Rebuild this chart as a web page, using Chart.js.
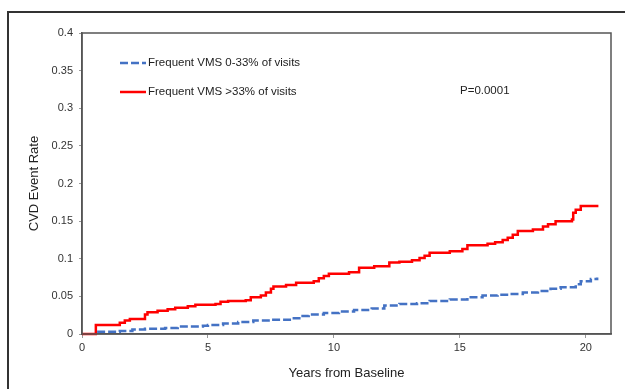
<!DOCTYPE html>
<html lang="en">
<head>
    <meta charset="UTF-8">
    <title>CVD Event Rate</title>
    <style>
        body { margin: 0; background: #fff; overflow: hidden; }
        .wrap { position: relative; width: 625px; height: 389px; }
        .frame { position: absolute; left: 7px; top: 11px; width: 700px; height: 500px;
                 border-left: 2px solid #333; border-top: 2px solid #333; pointer-events: none; }
        canvas { position: absolute; left: 0; top: 0; }
    </style>
</head>
<body>
    <div class="wrap">
        <canvas id="myChart" width="625" height="389"></canvas>
        <div class="frame"></div>
    </div>

    <script src="https://cdn.jsdelivr.net/npm/chart.js"></script>
    <script>
        // Kaplan-Meier style cumulative event rate
        const lowYears = [0.6, 1.5, 2.0, 2.5, 3.3, 3.8, 4.8, 5.0, 5.6, 6.2, 6.8, 7.5, 8.3, 8.7, 9.0, 9.6,
            10.2, 10.8, 11.5, 12.0, 12.6, 13.3, 13.8, 14.6, 15.3, 15.9, 16.5, 17.0, 17.5, 18.1, 18.6,
            19.0, 19.6, 19.8, 20.2, 20.45];
        const lowRate = [0.003, 0.004, 0.006, 0.007, 0.008, 0.010, 0.011, 0.012, 0.014, 0.016, 0.018,
            0.019, 0.021, 0.024, 0.026, 0.028, 0.030, 0.032, 0.034, 0.038, 0.040, 0.041, 0.044, 0.046,
            0.049, 0.051, 0.052, 0.053, 0.055, 0.057, 0.060, 0.062, 0.066, 0.070, 0.073, 0.075];

        const highYears = [0, 0.45, 0.55, 1.4, 1.5, 1.7, 1.9, 2.4, 2.5, 2.6, 3.0, 3.4, 3.7, 4.2, 4.5,
            5.3, 5.5, 5.8, 6.5, 6.7, 7.1, 7.3, 7.5, 7.6, 8.1, 8.5, 9.2, 9.4, 9.6, 9.8, 10.6, 11.0, 11.6,
            12.2, 12.6, 13.1, 13.4, 13.6, 13.8, 14.6, 15.1, 15.3, 16.1, 16.4, 16.7, 16.9, 17.1, 17.3,
            17.9, 18.3, 18.5, 18.8, 19.45, 19.5, 19.6, 19.8, 20.5];
        const highRate = [0, 0, 0.012, 0.012, 0.015, 0.018, 0.020, 0.020, 0.026, 0.029, 0.031, 0.033,
            0.035, 0.037, 0.039, 0.040, 0.043, 0.044, 0.045, 0.049, 0.051, 0.055, 0.060, 0.063, 0.065,
            0.068, 0.070, 0.074, 0.077, 0.080, 0.082, 0.088, 0.090, 0.095, 0.096, 0.098, 0.101, 0.104,
            0.108, 0.110, 0.113, 0.118, 0.120, 0.122, 0.125, 0.128, 0.132, 0.137, 0.139, 0.143, 0.146,
            0.150, 0.152, 0.161, 0.165, 0.170, 0.170];

        const seriesNames = ['Frequent VMS 0-33% of visits', 'Frequent VMS >33% of visits'];
        const pValue = 'P=0.0001';
        const xTicks = [0, 5, 10, 15, 20];
        const yTicks = [0, 0.05, 0.1, 0.15, 0.2, 0.25, 0.3, 0.35, 0.4];

        const font = '"Liberation Sans", Arial, sans-serif';
        const axisColor = '#555';

        const toPoints = (xs, ys) => xs.map((x, i) => ({ x: x, y: ys[i] }));

        // plot box on all four sides, legend inside the plot, p-value
        const overlay = {
            id: 'overlay',
            afterDraw(chart) {
                const ctx = chart.ctx;
                const a = chart.chartArea;
                ctx.save();
                ctx.strokeStyle = axisColor;
                ctx.lineWidth = 1.5;
                ctx.strokeRect(a.left, a.top, a.right - a.left, a.bottom - a.top);

                ctx.font = '11.5px ' + font;
                ctx.textBaseline = 'middle';
                chart.data.datasets.forEach((ds, i) => {
                    const y = a.top + 30 + i * 29;
                    ctx.strokeStyle = ds.borderColor;
                    ctx.lineWidth = ds.borderWidth;
                    ctx.setLineDash(ds.borderDash || []);
                    ctx.beginPath();
                    ctx.moveTo(a.left + 38, y);
                    ctx.lineTo(a.left + 64, y);
                    ctx.stroke();
                    ctx.setLineDash([]);
                    ctx.fillStyle = '#222';
                    ctx.fillText(ds.label, a.left + 66, y);
                });
                ctx.fillText(pValue, a.left + 378, a.top + 58);
                ctx.restore();
            }
        };

        const ctx = document.getElementById('myChart');

        let chart = new Chart(ctx, {
            type: 'line',
            data: {
                datasets: [
                    {
                        label: seriesNames[0],
                        data: toPoints(lowYears, lowRate),
                        borderColor: '#4472C4',
                        borderWidth: 2.5,
                        borderDash: [8, 3],
                        stepped: true,
                        pointRadius: 0,
                        clip: 4
                    },
                    {
                        label: seriesNames[1],
                        data: toPoints(highYears, highRate),
                        borderColor: '#FF0000',
                        borderWidth: 2.5,
                        stepped: true,
                        pointRadius: 0,
                        clip: 4
                    }
                ]
            },
            plugins: [overlay],
            options: {
                responsive: false,
                animation: false,
                layout: { padding: { top: 33, right: 14, left: 0, bottom: 0 } },
                plugins: {
                    legend: { display: false },
                    tooltip: { enabled: false }
                },
                scales: {
                    x: {
                        type: 'linear',
                        min: 0,
                        max: 21,
                        afterFit: s => { s.height = 55; },
                        afterBuildTicks: s => { s.ticks = xTicks.map(v => ({ value: v })); },
                        grid: { drawOnChartArea: false, tickLength: 4, color: '#999' },
                        border: { color: axisColor, width: 1.5 },
                        ticks: { color: '#333', font: { family: font, size: 11 }, padding: 3, maxRotation: 0 },
                        title: {
                            display: true,
                            text: 'Years from Baseline',
                            color: '#222',
                            font: { family: font, size: 13 },
                            padding: { top: 0, bottom: 8 }
                        }
                    },
                    y: {
                        min: 0,
                        max: 0.4,
                        afterFit: s => { s.width = 82; },
                        afterBuildTicks: s => { s.ticks = yTicks.map(v => ({ value: v })); },
                        grid: { drawOnChartArea: false, tickLength: 3, color: '#999' },
                        border: { color: axisColor, width: 1.5 },
                        ticks: {
                            color: '#333',
                            font: { family: font, size: 11 },
                            padding: 6,
                            callback: v => String(+v.toFixed(2))
                        },
                        title: {
                            display: true,
                            text: 'CVD Event Rate',
                            color: '#222',
                            font: { family: font, size: 13 },
                            padding: { top: 27, bottom: 0 }
                        }
                    }
                }
            }
        });
    </script>
</body>
</html>
